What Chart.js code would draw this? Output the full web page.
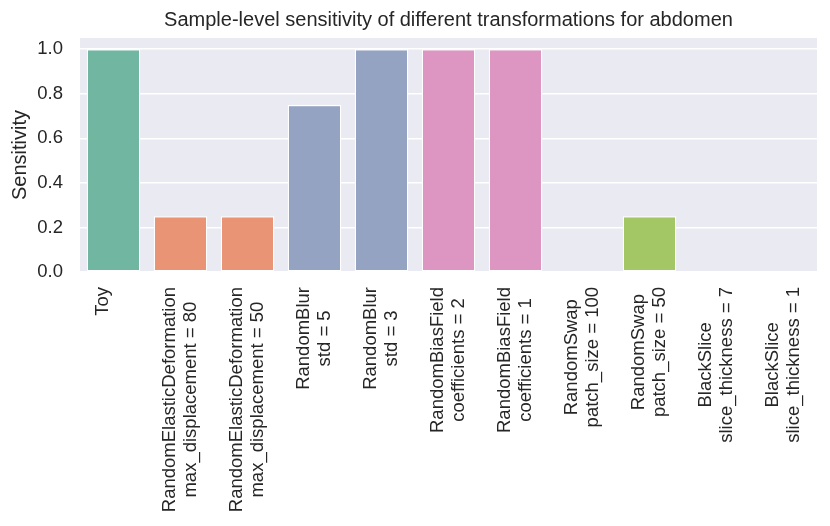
<!DOCTYPE html>
<html>
<head>
<meta charset="utf-8">
<script src="https://cdn.jsdelivr.net/npm/chart.js@4.4.0/dist/chart.umd.min.js"></script>
<style>
    html, body { margin: 0; padding: 0; background: #fff; }
    #wrap { width: 830px; height: 526px; }
</style>
</head>
<body>
<div id="wrap"><canvas id="grafico"></canvas></div>
<script>
// datos
const transformNames = ['Toy', 'RandomElasticDeformation', 'RandomElasticDeformation', 'RandomBlur', 'RandomBlur',
    'RandomBiasField', 'RandomBiasField', 'RandomSwap', 'RandomSwap', 'BlackSlice', 'BlackSlice'];
const transformParams = ['', 'max_displacement = 80', 'max_displacement = 50', 'std = 5', 'std = 3',
    'coefficients = 2', 'coefficients = 1', 'patch_size = 100', 'patch_size = 50',
    'slice_thickness = 7', 'slice_thickness = 1'];
const sensitivity = [1.0, 0.25, 0.25, 0.75, 1.0, 1.0, 1.0, 0.0, 0.25, 0.0, 0.0];
const yTicks = [0.0, 0.2, 0.4, 0.6, 0.8, 1.0];
const titulo = 'Sample-level sensitivity of different transformations for abdomen';

// Set2 desaturado (seaborn), un color por tipo de transformacion
const barColors = ['#71b6a1', '#e99575', '#e99575', '#95a3c3', '#95a3c3',
    '#dc96c1', '#dc96c1', '#a2c764', '#a2c764', '#e5c849', '#e5c849'];

const FONT = "'Liberation Sans', Arial, sans-serif";
const TEXT = '#262626';

// fondo gris del area de trazado
const fondo = {
    id: 'fondo',
    beforeDraw(chart) {
        const a = chart.chartArea;
        const ctx = chart.ctx;
        ctx.save();
        ctx.fillStyle = '#eaeaf2';
        ctx.fillRect(a.left, a.top, a.right - a.left, a.bottom - a.top);
        ctx.restore();
    }
};

// titulo centrado sobre el area de trazado (como matplotlib)
const tituloEjes = {
    id: 'tituloEjes',
    afterDraw(chart) {
        const a = chart.chartArea;
        const ctx = chart.ctx;
        ctx.save();
        ctx.font = '20px ' + FONT;
        ctx.fillStyle = TEXT;
        ctx.textAlign = 'center';
        ctx.textBaseline = 'middle';
        ctx.fillText(titulo, (a.left + a.right) / 2, 20);
        ctx.restore();
    }
};

// etiquetas del eje x giradas, con lineas centradas
const etiquetasX = {
    id: 'etiquetasX',
    afterDraw(chart) {
        const x = chart.scales.x;
        const ctx = chart.ctx;
        const lineH = 20.5;
        ctx.save();
        ctx.font = '18.5px ' + FONT;
        ctx.fillStyle = TEXT;
        ctx.textAlign = 'center';
        ctx.textBaseline = 'middle';
        chart.data.labels.forEach((lab, i) => {
            const px = x.getPixelForTick(i);
            const w = Math.max(...lab.map(t => ctx.measureText(t).width));
            ctx.save();
            ctx.translate(px, chart.chartArea.bottom + 15);
            ctx.rotate(-Math.PI / 2);
            lab.forEach((t, k) => {
                ctx.fillText(t, -w / 2, (k - (lab.length - 1) / 2) * lineH);
            });
            ctx.restore();
        });
        ctx.restore();
    }
};

const ctx = document.getElementById('grafico').getContext('2d');
const grafico = new Chart(ctx, {
    type: 'bar',
    data: {
        labels: transformNames.map((n, i) => [n, transformParams[i]]),
        datasets: [{
            label: 'Sensitivity',
            data: sensitivity,
            backgroundColor: barColors,
            borderColor: '#ffffff',
            borderWidth: 1.3,
            borderSkipped: false,
            categoryPercentage: 1.0,
            barPercentage: 0.8
        }]
    },
    options: {
        responsive: true,
        maintainAspectRatio: false,
        animation: false,
        layout: { padding: { left: 0, right: 13, top: 38, bottom: 0 } },
        plugins: {
            legend: { display: false },
            tooltip: { enabled: false },
            title: { display: false }
        },
        scales: {
            x: {
                grid: { display: false },
                border: { display: false },
                ticks: { display: false },
                afterFit: s => { s.height = 254; }
            },
            y: {
                min: 0,
                max: 1.05,
                afterBuildTicks: s => { s.ticks = yTicks.map(v => ({ value: v })); },
                grid: { color: '#ffffff', lineWidth: 1.5, drawTicks: false },
                border: { display: false },
                ticks: {
                    color: TEXT,
                    font: { family: FONT, size: 18.5 },
                    padding: 17,
                    callback: v => Number(v).toFixed(1)
                },
                title: {
                    display: true,
                    text: 'Sensitivity',
                    color: TEXT,
                    font: { family: FONT, size: 20 },
                    padding: { top: 8, bottom: 0 }
                },
                afterFit: s => { s.width = 80; }
            }
        }
    },
    plugins: [fondo, tituloEjes, etiquetasX]
});
</script>
</body>
</html>
